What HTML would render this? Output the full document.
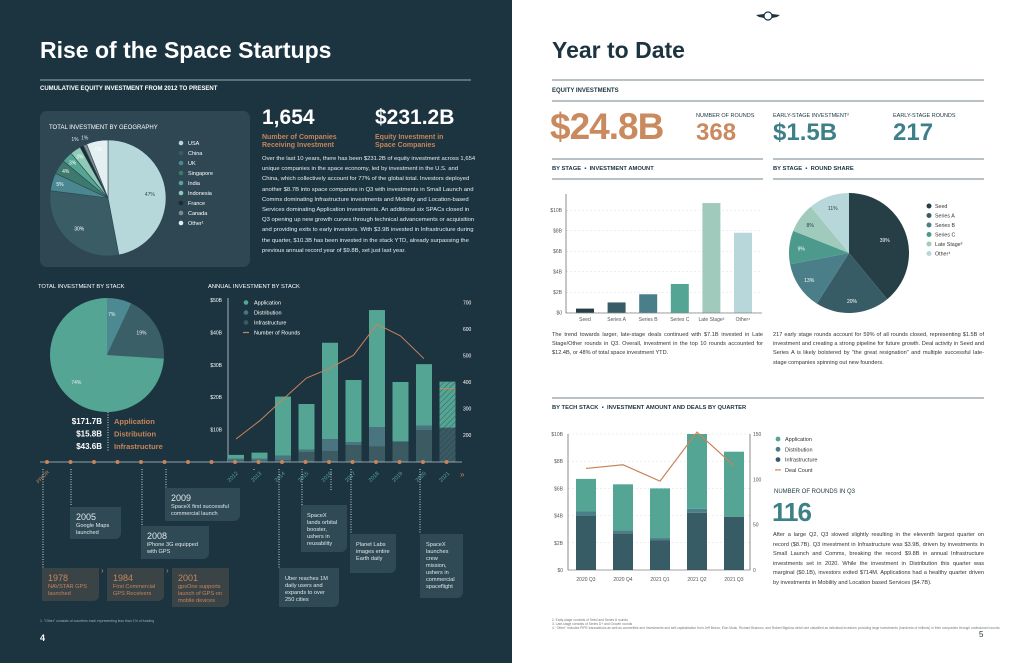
<!DOCTYPE html>
<html><head><meta charset="utf-8">
<style>
body{margin:0;width:1024px;height:663px;overflow:hidden;position:relative;font-family:"Liberation Sans",sans-serif;background:#fff}
.abs{position:absolute}
.p{position:absolute;font-size:5.6px;line-height:10.2px;text-align:justify}
#left{position:absolute;left:0;top:0;width:512px;height:663px;background:#1b3440}
svg{position:absolute;left:0;top:0}
.card{position:absolute;border-radius:0 0 6px 0;font-size:5.6px;line-height:7px;color:#dfe8ea;padding:5px 6px;box-sizing:border-box}
.card b{display:block;font-size:9px;line-height:11px;font-weight:normal}
</style></head><body>
<div id="left"></div>
<svg id="pg" width="1024" height="663" viewBox="0 0 1024 663"></svg>

<div class="abs" style="left:40px;top:37px;font-size:23px;font-weight:bold;color:#fff">Rise of the Space Startups</div>
<div class="abs" style="left:40px;top:86px;font-size:6px;font-weight:bold;color:#fff">CUMULATIVE EQUITY INVESTMENT FROM 2012 TO PRESENT</div>
<div class="abs" style="left:262px;top:106px;font-size:21px;font-weight:bold;color:#fff">1,654</div>
<div class="abs" style="left:375px;top:106px;font-size:21px;font-weight:bold;color:#fff">$231.2B</div>
<div class="abs" style="left:262px;top:134px;font-size:7px;line-height:8px;font-weight:bold;color:#c8845a">Number of Companies<br>Receiving Investment</div>
<div class="abs" style="left:375px;top:134px;font-size:7px;line-height:8px;font-weight:bold;color:#c8845a">Equity Investment in<br>Space Companies</div>
<div class="p" style="left:262px;top:154px;width:214px;font-size:5.9px;color:#e6eef0;text-align:left">Over the last 10 years, there has been $231.2B of equity investment across 1,654 unique companies in the space economy, led by investment in the U.S. and China, which collectively account for 77% of the global total. Investors deployed another $8.7B into space companies in Q3 with investments in Small Launch and Comms dominating Infrastructure investments and Mobility and Location-based Services dominating Application investments. An additional six SPACs closed in Q3 opening up new growth curves through technical advancements or acquisition and providing exits to early investors. With $3.9B invested in Infrastructure during the quarter, $10.3B has been invested in the stack YTD, already surpassing the previous annual record year of $9.8B, set just last year.</div>

<div class="card" style="left:70px;top:507px;width:51px;height:32px;background:#2f4a55"><b>2005</b>Google Maps launched</div>
<div class="card" style="left:141px;top:526px;width:68px;height:33px;background:#2f4a55"><b>2008</b>iPhone 3G equipped with GPS</div>
<div class="card" style="left:165px;top:488px;width:75px;height:33px;background:#2f4a55"><b>2009</b>SpaceX first successful commercial launch</div>
<div class="card" style="left:42px;top:568px;width:57px;height:33px;background:#3a4447;color:#c8845a"><b>1978</b>NAVSTAR GPS launched</div>
<div class="card" style="left:107px;top:568px;width:57px;height:33px;background:#3a4447;color:#c8845a"><b>1984</b>First Commercial GPS Receivers</div>
<div class="card" style="left:172px;top:568px;width:57px;height:39px;background:#3a4447;color:#c8845a"><b>2001</b>gpsOne supports launch of GPS on mobile devices</div>
<div class="card" style="left:279px;top:568px;width:60px;height:39px;background:#2f4a55;padding-top:8px">Uber reaches 1M daily users and expands to over 250 cities</div>
<div class="card" style="left:301px;top:505px;width:46px;height:47px;background:#2f4a55;padding-top:8px">SpaceX lands orbital booster, ushers in reusability</div>
<div class="card" style="left:350px;top:534px;width:46px;height:39px;background:#2f4a55;padding-top:8px">Planet Labs images entire Earth daily</div>
<div class="card" style="left:420px;top:534px;width:43px;height:64px;background:#2f4a55;padding-top:8px">SpaceX launches crew mission, ushers in commercial spaceflight</div>
<div class="abs" style="left:40px;top:619px;font-size:3.5px;color:#9fb0b5">1. "Other" consists of countries each representing less than 1% of funding</div>
<div class="abs" style="left:40px;top:633px;font-size:9px;font-weight:bold;color:#fff">4</div>

<div class="abs" style="left:552px;top:37px;font-size:23px;font-weight:bold;color:#1b3440">Year to Date</div>
<div class="abs" style="left:552px;top:88px;font-size:6px;font-weight:bold;color:#1b3440">EQUITY INVESTMENTS</div>
<div class="abs" style="left:550px;top:106px;font-size:37px;font-weight:bold;color:#c98a5f;letter-spacing:-1px">$24.8B</div>
<div class="abs" style="left:696px;top:113px;font-size:5.5px;color:#1b3440">NUMBER OF ROUNDS</div>
<div class="abs" style="left:696px;top:119px;font-size:24px;font-weight:bold;color:#c98a5f">368</div>
<div class="abs" style="left:773px;top:113px;font-size:5.5px;color:#1b3440">EARLY-STAGE INVESTMENT²</div>
<div class="abs" style="left:773px;top:119px;font-size:24px;font-weight:bold;color:#3e8088">$1.5B</div>
<div class="abs" style="left:893px;top:113px;font-size:5.5px;color:#1b3440">EARLY-STAGE ROUNDS</div>
<div class="abs" style="left:893px;top:119px;font-size:24px;font-weight:bold;color:#3e8088">217</div>
<div class="abs" style="left:552px;top:166px;font-size:5.8px;font-weight:bold;color:#1b3440">BY STAGE &nbsp;•&nbsp; INVESTMENT AMOUNT</div>
<div class="abs" style="left:773px;top:166px;font-size:5.8px;font-weight:bold;color:#1b3440">BY STAGE &nbsp;•&nbsp; ROUND SHARE</div>
<div class="p" style="left:552px;top:331px;width:211px;color:#333;line-height:9.2px">The trend towards larger, late-stage deals continued with $7.1B invested in Late Stage/Other rounds in Q3. Overall, investment in the top 10 rounds accounted for $12.4B, or 48% of total space investment YTD.</div>
<div class="p" style="left:773px;top:331px;width:211px;color:#333;line-height:9.2px">217 early stage rounds account for 59% of all rounds closed, representing $1.5B of investment and creating a strong pipeline for future growth. Deal activity in Seed and Series A is likely bolstered by "the great resignation" and multiple successful late-stage companies spinning out new founders.</div>
<div class="abs" style="left:552px;top:405px;font-size:5.8px;font-weight:bold;color:#1b3440">BY TECH STACK &nbsp;•&nbsp; INVESTMENT AMOUNT AND DEALS BY QUARTER</div>
<div class="abs" style="left:774px;top:489px;font-size:6px;color:#1b3440">NUMBER OF ROUNDS IN Q3</div>
<div class="abs" style="left:772px;top:497px;font-size:26px;font-weight:bold;color:#3e8088;letter-spacing:-1px">116</div>
<div class="p" style="left:773px;top:531px;width:211px;color:#333;line-height:9.6px">After a large Q2, Q3 slowed slightly resulting in the eleventh largest quarter on record ($8.7B). Q3 investment in Infrastructure was $3.9B, driven by investments in Small Launch and Comms, breaking the record $9.8B in annual Infrastructure investments set in 2020. While the investment in Distribution this quarter was marginal ($0.1B), investors exited $714M. Applications had a healthy quarter driven by investments in Mobility and Location based Services ($4.7B).</div>
<div class="abs" style="left:552px;top:618px;font-size:3.3px;line-height:4.2px;color:#777">2. Early-stage consists of Seed and Series A rounds<br>3. Late-stage consists of Series D+ and Growth rounds<br>4. "Other" includes PIPE transactions as well as convertible and investments and self-capitalization from Jeff Bezos, Elon Musk, Richard Branson, and Robert Bigelow which are classified as individual investors providing large investments (hundreds of millions) in their companies through undisclosed rounds.</div>
<div class="abs" style="left:979px;top:630px;font-size:8px;color:#1b3440">5</div>

<script>
// ---- Data ----
const geoLabels=["USA","China","UK","Singapore","India","Indonesia","France","Canada","Other¹"];
const geoValues=[47,30,5,4,3,3,1,1,6];
const stackLabels=["Distribution","Infrastructure","Application"];
const stackShares=[7,19,74];
const years=["2012","2013","2014","2015","2016","2017","2018","2019","2020","2021"];
const annualInfra=[0.5,0.4,0.6,3.1,3.4,5.2,4.8,6.1,9.8,10.5];
const annualDist=[0.5,0.6,1.4,0.7,3.7,0.9,6.0,0.3,1.4,0.1];
const annualApp=[1.2,1.9,18.2,14.1,29.7,19.2,36.1,18.3,19.0,14.2];
const annualRounds=[185,253,335,415,452,501,618,574,488,375];
const annualTicks=[10,20,30,40,50];
const roundTicks=[200,300,400,500,600,700];
const stageLabels=["Seed","Series A","Series B","Series C","Late Stage³","Other⁴"];
const stageValues=[0.4,1.0,1.8,2.8,10.7,7.8];
const stageTicks=[0,2,4,6,8,10];
const shareLabels=["Seed","Series A","Series B","Series C","Late Stage³","Other⁴"];
const shareValues=[39,20,13,9,8,11];
const quarters=["2020 Q3","2020 Q4","2021 Q1","2021 Q2","2021 Q3"];
const qInfra=[4.0,2.7,2.2,4.2,3.9];
const qDist=[0.3,0.2,0.15,0.3,0.05];
const qApp=[2.4,3.4,3.65,5.5,4.75];
const qDeals=[112,116,98,152,115];
const qTicks=[0,2,4,6,8,10];
const qDealTicks=[0,50,100,150];

const NS="http://www.w3.org/2000/svg";
const svg=document.getElementById('pg');
function mk(tag,a,parent){const e=document.createElementNS(NS,tag);for(const k in a)e.setAttribute(k,a[k]);(parent||svg).appendChild(e);return e;}
function txt(x,y,s,a){const e=mk('text',Object.assign({x:x,y:y,'font-family':'Liberation Sans, sans-serif'},a));e.textContent=s;return e;}
function arc(cx,cy,r,a0,a1){const p=a=>[cx+r*Math.sin(a),cy-r*Math.cos(a)];const s=p(a0),e=p(a1);const l=(a1-a0)>Math.PI?1:0;return `M${cx},${cy}L${s[0]},${s[1]}A${r},${r} 0 ${l} 1 ${e[0]},${e[1]}Z`;}
let e;

// ---- rules ----
e=mk('line',{x1:40,y1:80,x2:471,y2:80,stroke:'#c9d3d6','stroke-width':0.8});


[[552,80,984],[552,101,984],[552,159,763],[773,159,984],[552,179,763],[773,179,984],[552,398,984]].forEach(r=>{
 e=mk('line',{x1:r[0],y1:r[1],x2:r[2],y2:r[1],stroke:'#3f5a66','stroke-width':0.8});
 
 
});
// logo
e=mk('g',{});


mk('circle',{cx:768,cy:16,r:4,fill:'none',stroke:'#1b3440','stroke-width':1.2},e);
mk('path',{d:'M756,15 L764,14 L764,18 L759,17Z M780,15 L772,14 L772,18 L777,17Z',fill:'#1b3440'},e);

// ---- geography panel ----
e=mk('rect',{x:40,y:111,width:210,height:156,rx:7,fill:'#2e4753'});


e=txt(49,129,'TOTAL INVESTMENT BY GEOGRAPHY',{fill:'#fff','font-size':6});


const geoColors=['#b7d8da','#3a5c64','#4a8790','#3d7a6d','#55a594','#8fcab7','#1a2c35','#7d8b90','#e3eff0'];
const gtot=geoValues.reduce((a,b)=>a+b,0);
let a0=0;
geoValues.forEach((v,i)=>{
 const a1=a0+v/gtot*2*Math.PI;
 const s=mk('path',{d:arc(108,198,58,a0,a1),fill:geoColors[i],stroke:'#2e4753','stroke-width':0.6});
 
 
 const m=(a0+a1)/2, rr=v>10?42:(v>=3?50:66);
 const t=txt(108+rr*Math.sin(m)+(v<3?(i===6?-3:3):0),198-rr*Math.cos(m)+2,v+'%',{fill:v>=40?'#31474f':'#fff','font-size':5,'text-anchor':'middle'});
 if(v<3){t.setAttribute('fill','#dfe8ea');}
 
 
 const ly=143+i*10;
 const d=mk('circle',{cx:181,cy:ly,r:2.3,fill:geoColors[i]});
 
 
 const lt=txt(188,ly+2,geoLabels[i],{fill:'#fff','font-size':5.5});
 
 
 a0=a1;
});

// ---- stack pie ----
e=txt(38,288,'TOTAL INVESTMENT BY STACK',{fill:'#fff','font-size':5.8});


const stackColors=['#4d8992','#3a5f66','#55a594'];
const stot=stackShares.reduce((a,b)=>a+b,0);
a0=0;
stackShares.forEach((v,i)=>{
 const a1=a0+v/stot*2*Math.PI;
 const s=mk('path',{d:arc(107,355,57,a0,a1),fill:stackColors[i]});
 
 
 const m=(a0+a1)/2,rr=v>50?42:40;
 const t=txt(107+rr*Math.sin(m)+(v<10?-4:0),355-rr*Math.cos(m),v+'%',{fill:'#e8f0f0','font-size':5,'text-anchor':'middle'});
 
 
 a0=a1;
});
const stackTotals=["$171.7B","$15.8B","$43.6B"],stackNames=["Application","Distribution","Infrastructure"];
stackTotals.forEach((s,i)=>{
 e=txt(102,424+i*12.5,s,{fill:'#fff','font-size':8,'font-weight':'bold','text-anchor':'end'});
 
 
 e=txt(114,424+i*12.5,stackNames[i],{fill:'#c8845a','font-size':7.5,'font-weight':'bold'});
 
 
});
e=mk('line',{x1:108,y1:412,x2:108,y2:452,stroke:'#fff','stroke-width':0.8,'stroke-dasharray':'1 1.5'});



// ---- annual chart ----
e=txt(208,288,'ANNUAL INVESTMENT BY STACK',{fill:'#fff','font-size':5.8});


const ay=v=>462-v*3.24, ax=i=>236+i*23.5, ry=r=>488-r*0.265;
e=mk('line',{x1:228,y1:298,x2:228,y2:462,stroke:'#c9d3d6','stroke-width':0.8});


annualTicks.forEach(t=>{
 const l=txt(222,ay(t)+2,'$'+t+'B',{fill:'#fff','font-size':5,'text-anchor':'end'});
 
 
});
roundTicks.forEach(t=>{
 const l=txt(463,ry(t)+2,t,{fill:'#fff','font-size':5});
 
 
});
const defs=mk('defs',{});
const pat=mk('pattern',{id:'hatch',width:4,height:4,patternUnits:'userSpaceOnUse',patternTransform:'rotate(45)'},defs);
mk('line',{x1:0,y1:0,x2:0,y2:4,stroke:'#1b3440','stroke-width':1},pat);
years.forEach((y,i)=>{
 const x=ax(i)-8,w=16;
 let b=mk('rect',{x:x,y:ay(annualInfra[i]),width:w,height:annualInfra[i]*3.24,fill:'#3b5a62'});
 
 
 const d0=annualInfra[i];
 b=mk('rect',{x:x,y:ay(d0+annualDist[i]),width:w,height:annualDist[i]*3.24,fill:'#4a7580'});
 
 
 const d1=d0+annualDist[i];
 b=mk('rect',{x:x,y:ay(d1+annualApp[i]),width:w,height:annualApp[i]*3.24,fill:'#55a594'});
 
 
 if(i===years.length-1){
  const h=mk('rect',{x:x,y:ay(d1+annualApp[i]),width:w,height:(d1+annualApp[i])*3.24,fill:'url(#hatch)',opacity:0.6});
  
  
 }
});
let pts=annualRounds.slice(0,9).map((r,i)=>ax(i)+','+ry(r)).join(' ');
e=mk('polyline',{points:pts,fill:'none',stroke:'#c8845a','stroke-width':1});


e=mk('line',{x1:ax(9)-8,y1:ry(annualRounds[9]),x2:ax(9)+8,y2:ry(annualRounds[9]),stroke:'#c8845a','stroke-width':1});


const aLeg=[['Application','#55a594'],['Distribution','#4a7580'],['Infrastructure','#3b5a62'],['Number of Rounds','#c8845a']];
aLeg.forEach((l,i)=>{
 const y=302.5+i*10;
 const sw=i<3?mk('circle',{cx:246,cy:y,r:2.3,fill:l[1]}):mk('line',{x1:243,y1:y,x2:249,y2:y,stroke:l[1],'stroke-width':1.2});
 
 
 const t=txt(254,y+2,l[0],{fill:'#fff','font-size':5.5});
 
 
});

// ---- timeline ----
e=mk('line',{x1:40,y1:462,x2:462,y2:462,stroke:'#b9c5c8','stroke-width':0.8});


for(let i=0;i<18;i++){
 const d=mk('circle',{cx:47+i*23.5,cy:462,r:2,fill:'#c8845a'});
 
 
}
e=txt(44,478,'PRIOR',{fill:'#c8845a','font-size':5,transform:'rotate(-45 44 478)','text-anchor':'middle'});


years.forEach((y,i)=>{
 const x=ax(i)-2;
 const t=txt(x,478,y,{fill:'#55a594','font-size':5.5,transform:`rotate(-45 ${x} 478)`,'text-anchor':'middle'});
 
 
});
e=txt(460,477,'»',{fill:'#c8845a','font-size':8});


[[43,568],[71,505],[142,525],[166,488],[279,568],[302,505],[351,534],[420,534],[331,490],[254,470],[420,470]].forEach(c=>{
 const l=mk('line',{x1:c[0],y1:469,x2:c[0],y2:c[1],stroke:'#fff','stroke-width':0.8,'stroke-dasharray':'1 1.5'});
 
 
});
[[101,570],[166,570]].forEach(c=>{
 const t=txt(c[0],c[1]+3,'›',{fill:'#c8845a','font-size':8});
 
 
});

// ---- stage bar chart ----
const sy=v=>312.7-v*10.25, sx=i=>585+i*31.6;
stageTicks.forEach(t=>{
 const g=mk('line',{x1:566,y1:sy(t),x2:762,y2:sy(t),stroke:'#cfe4e2','stroke-width':0.5,'stroke-dasharray':'2 2'});
 
 
 const l=txt(562,sy(t)+2,'$'+t+(t?'B':''),{fill:'#555','font-size':5,'text-anchor':'end'});
 
 
});
const stageColors=['#263f46','#375c66','#4a7f8a','#55a594','#9fcabc','#b8d7da'];
stageValues.forEach((v,i)=>{
 const b=mk('rect',{x:sx(i)-9,y:sy(v),width:18,height:v*10.25,fill:stageColors[i]});
 
 
 const t=txt(sx(i),321,stageLabels[i],{fill:'#555','font-size':5,'text-anchor':'middle'});
 
 
});
e=mk('path',{d:'M566,194 V313 H762',fill:'none',stroke:'#444','stroke-width':0.6});



// ---- round share pie ----
const shareColors=['#263f46','#375c66','#4a7f8a','#4c9a8c','#9fcabc','#b8d7da'];
const shtot=shareValues.reduce((a,b)=>a+b,0);
a0=0;
shareValues.forEach((v,i)=>{
 const a1=a0+v/shtot*2*Math.PI;
 const s=mk('path',{d:arc(849,253,60,a0,a1),fill:shareColors[i]});
 
 
 const m=(a0+a1)/2,rr=v>30?38:48;
 const t=txt(849+rr*Math.sin(m),253-rr*Math.cos(m)+2,v+'%',{fill:i>=4?'#263f46':'#fff','font-size':5,'text-anchor':'middle'});
 
 
 const ly=206+i*9.5;
 const d=mk('circle',{cx:929,cy:ly,r:2.5,fill:shareColors[i]});
 
 
 const lt=txt(935,ly+2,shareLabels[i],{fill:'#333','font-size':5.3});
 
 
 a0=a1;
});

// ---- quarterly chart ----
const qy=v=>570-v*13.6, qx=i=>586+i*37, dy=d=>570-d*0.907;
qTicks.forEach(t=>{
 if(t){const g=mk('line',{x1:568,y1:qy(t),x2:752,y2:qy(t),stroke:'#cfe4e2','stroke-width':0.5,'stroke-dasharray':'2 2'});
 
 }
 const l=txt(563,qy(t)+2,'$'+t+(t?'B':''),{fill:'#555','font-size':5,'text-anchor':'end'});
 
 
});
qDealTicks.forEach(t=>{
 const l=txt(753,dy(t)+2,t,{fill:'#555','font-size':5});
 
 
});
quarters.forEach((q,i)=>{
 const x=qx(i)-10,w=20;
 let b=mk('rect',{x:x,y:qy(qInfra[i]),width:w,height:qInfra[i]*13.6,fill:'#375c66'});
 
 
 const c1=qInfra[i]+qDist[i];
 b=mk('rect',{x:x,y:qy(c1),width:w,height:qDist[i]*13.6,fill:'#4a7f8a'});
 
 
 b=mk('rect',{x:x,y:qy(c1+qApp[i]),width:w,height:qApp[i]*13.6,fill:'#55a594'});
 
 
 const t=txt(qx(i),581,q,{fill:'#555','font-size':5,'text-anchor':'middle'});
 
 
});
e=mk('path',{d:'M568,434 V570 H750 V434',fill:'none',stroke:'#444','stroke-width':0.6});


e=mk('polyline',{points:qDeals.map((d,i)=>qx(i)+','+dy(d)).join(' '),fill:'none',stroke:'#c8845a','stroke-width':1.2});


const qLeg=[['Application','#55a594'],['Distribution','#4a7f8a'],['Infrastructure','#375c66'],['Deal Count','#c8845a']];
qLeg.forEach((l,i)=>{
 const y=439+i*10.3;
 const sw=i<3?mk('circle',{cx:778,cy:y,r:2.4,fill:l[1]}):mk('line',{x1:775,y1:y,x2:781,y2:y,stroke:l[1],'stroke-width':1.2});
 
 
 const t=txt(785,y+2,l[0],{fill:'#333','font-size':5.5});
 
 
});
</script>
</body></html>
